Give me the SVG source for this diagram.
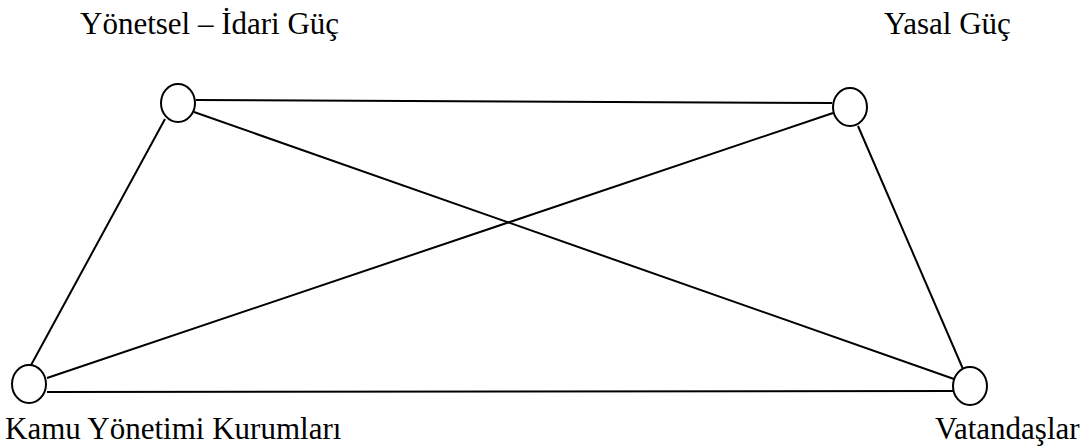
<svg xmlns="http://www.w3.org/2000/svg" width="1092" height="448" viewBox="0 0 1092 448">
  <style>
    .node { fill: #fff; stroke: #000; stroke-width: 2; }
    .edge { stroke: #000; stroke-width: 2; fill: none; }
    text { font-family: 'Liberation Serif', 'Times New Roman', Times, serif; font-size: 31px; fill: #000; }
  </style>
  <rect width="1092" height="448" fill="#fff"/>
  <g id="connectors">
    <line class="edge" x1="196" y1="100" x2="832" y2="103"/>
    <line class="edge" x1="194" y1="112" x2="954" y2="379"/>
    <line class="edge" x1="833" y1="113" x2="47" y2="378"/>
    <line class="edge" x1="165" y1="119" x2="30" y2="367"/>
    <line class="edge" x1="858" y1="126" x2="963" y2="369"/>
    <line class="edge" x1="47" y1="392" x2="953" y2="391"/>
  </g>
  <g id="node-idari">
    <ellipse class="node" cx="178" cy="103" rx="17" ry="19"/>
    <text x="80" y="34" font-family="Liberation Serif, serif">Yönetsel – İdari Güç</text>
  </g>
  <g id="node-yasal">
    <ellipse class="node" cx="850" cy="107" rx="17" ry="19"/>
    <text x="884" y="34" font-family="Liberation Serif, serif">Yasal Güç</text>
  </g>
  <g id="node-kamu">
    <ellipse class="node" cx="29" cy="384" rx="17" ry="19"/>
    <text x="5" y="439" font-family="Liberation Serif, serif">Kamu Yönetimi Kurumları</text>
  </g>
  <g id="node-vatandas">
    <ellipse class="node" cx="970" cy="386" rx="17" ry="19"/>
    <text x="935" y="439" font-family="Liberation Serif, serif">Vatandaşlar</text>
  </g>
</svg>
